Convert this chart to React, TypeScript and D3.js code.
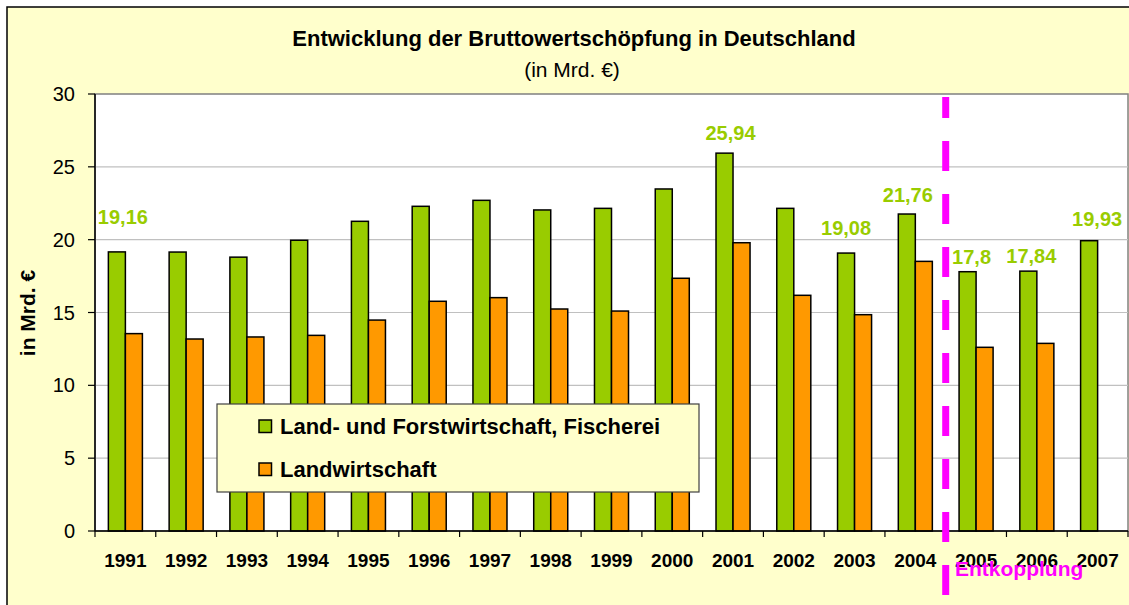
import React from "react";
import * as d3 from "d3";

const years = ["1991","1992","1993","1994","1995","1996","1997","1998","1999","2000","2001","2002","2003","2004","2005","2006","2007"];
const landForstFischerei = [19.16,19.15,18.8,19.96,21.26,22.29,22.7,22.04,22.15,23.48,25.94,22.15,19.08,21.76,17.8,17.84,19.93];
const landwirtschaft: (number|null)[] = [13.55,13.18,13.32,13.43,14.48,15.77,16.02,15.24,15.1,17.35,19.79,16.18,14.85,18.51,12.61,12.88,null];
const seriesNames = ["Land- und Forstwirtschaft, Fischerei","Landwirtschaft"];
const yTicks = [0,5,10,15,20,25,30];
const labelledYears = ["1991","2001","2003","2004","2005","2006","2007"];
const breakAfterYear = "2004";
const breakLabel = "Entkopplung";

// layout nudges for manually placed data labels (px)
const labelNudge: Record<string,[number,number]> = {
  "1991":[6,-28],"2001":[6,-13],"2003":[0,-18],"2004":[1,-12],"2005":[4,-8],"2006":[3,-8],"2007":[8,-15]
};

const W = 1129, H = 605;
const plot = { left: 95, top: 94, right: 1128, bottom: 531 };
const GREEN = "#99cc00", ORANGE = "#ff9900", FONT = "Arial, 'Liberation Sans', sans-serif";

export default function App() {
  const x = d3.scaleBand<string>().domain(years).range([plot.left, plot.right]).padding(0);
  const y = d3.scaleLinear().domain([0, 30]).range([plot.bottom, plot.top]);
  const bw = x.bandwidth();
  const barW = bw * 0.28;
  const groupOff = (bw - 2 * barW) / 2;
  const fmt = (v: number) => String(v).replace(".", ",");
  const breakX = (x(breakAfterYear) as number) + bw;

  return (
    <div style={{ position: "fixed", left: 0, top: 0 }}>
      <svg width={W} height={H} style={{ display: "block", fontFamily: FONT }}>
        <rect x={7} y={7} width={W + 5} height={H + 5} fill="#ffffcc" stroke="#000" strokeWidth={1.5} />
        <rect x={plot.left} y={plot.top} width={plot.right - plot.left} height={plot.bottom - plot.top} fill="#fff" stroke="#808080" strokeWidth={1.5} />
        {yTicks.filter(t => t > 0 && t < 30).map(t => (
          <line key={"g"+t} x1={plot.left} x2={plot.right} y1={y(t)} y2={y(t)} stroke="#c0c0c0" strokeWidth={1.2} />
        ))}
        {/* bars */}
        {years.map((yr, i) => {
          const x0 = (x(yr) as number) + groupOff;
          const v1 = landForstFischerei[i];
          const v2 = landwirtschaft[i];
          return (
            <g key={yr}>
              <rect x={x0} y={y(v1)} width={barW} height={y(0) - y(v1)} fill={GREEN} stroke="#000" strokeWidth={1.5} />
              {v2 != null && (
                <rect x={x0 + barW} y={y(v2)} width={barW} height={y(0) - y(v2)} fill={ORANGE} stroke="#000" strokeWidth={1.5} />
              )}
            </g>
          );
        })}
        {/* axes */}
        <line x1={plot.left} x2={plot.left} y1={plot.top} y2={plot.bottom} stroke="#000" strokeWidth={1.5} />
        <line x1={plot.left} x2={plot.right} y1={plot.bottom} y2={plot.bottom} stroke="#000" strokeWidth={1.5} />
        {yTicks.map(t => (
          <g key={"t"+t}>
            <line x1={plot.left - 7} x2={plot.left} y1={y(t)} y2={y(t)} stroke="#000" strokeWidth={1.2} />
            <text x={plot.left - 20} y={y(t)} dy="0.35em" textAnchor="end" fontSize={20}>{t}</text>
          </g>
        ))}
        {years.map(yr => (
          <line key={"xt"+yr} x1={x(yr) as number} x2={x(yr) as number} y1={plot.bottom} y2={plot.bottom + 6} stroke="#000" strokeWidth={1.2} />
        ))}
        <line x1={plot.right} x2={plot.right} y1={plot.bottom} y2={plot.bottom + 6} stroke="#000" strokeWidth={1.2} />
        {years.map(yr => (
          <text key={"xl"+yr} x={(x(yr) as number) + bw / 2} y={567} textAnchor="middle" fontSize={19} fontWeight="bold">{yr}</text>
        ))}
        <text transform={`translate(35,313) rotate(-90)`} textAnchor="middle" fontSize={21} fontWeight="bold">in Mrd. €</text>
        {/* title */}
        <text x={574} y={46} textAnchor="middle" fontSize={22} fontWeight="bold">Entwicklung der Bruttowertschöpfung in Deutschland</text>
        <text x={572} y={77} textAnchor="middle" fontSize={21}>(in Mrd. €)</text>
        {/* data labels */}
        {labelledYears.map(yr => {
          const i = years.indexOf(yr);
          const v = landForstFischerei[i];
          const [dx, dy] = labelNudge[yr];
          return (
            <text key={"dl"+yr} x={(x(yr) as number) + groupOff + barW / 2 + dx} y={y(v) + dy} textAnchor="middle" fontSize={20} fontWeight="bold" fill={GREEN}>{fmt(v)}</text>
          );
        })}
        {/* legend */}
        <rect x={217} y={404} width={482} height={88} fill="#ffffcc" stroke="#404040" strokeWidth={1.2} />
        {seriesNames.map((s, i) => (
          <g key={s} transform={`translate(259,${420 + i * 43})`}>
            <rect x={0} y={0} width={12.5} height={12.5} fill={i === 0 ? GREEN : ORANGE} stroke="#000" strokeWidth={1.5} />
            <text x={21} y={13.5} fontSize={22} fontWeight="bold">{s}</text>
          </g>
        ))}
        {/* decoupling line */}
        <line x1={breakX} x2={breakX} y1={97} y2={H} stroke="#ff00ff" strokeWidth={7} strokeDasharray="30 23" strokeDashoffset={9} />
        <text x={955} y={576} fontSize={21} fontWeight="bold" fill="#ff00ff">{breakLabel}</text>
      </svg>
    </div>
  );
}
